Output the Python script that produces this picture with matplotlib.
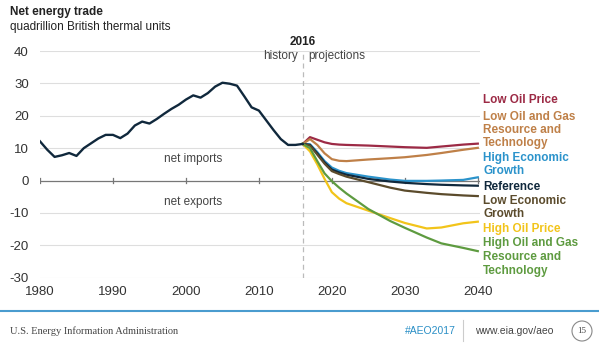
import matplotlib.pyplot as plt
from matplotlib.patches import Circle
import numpy as np

plt.rcParams['font.family'] = ['Liberation Sans', 'DejaVu Sans']
plt.rcParams['axes.unicode_minus'] = False

# history
hist_years = list(range(1980, 2017))
hist_vals = [12.1, 9.5, 7.3, 7.8, 8.5, 7.6, 10.0, 11.5, 13.0, 14.1, 14.1, 13.1, 14.5, 17.0, 18.2, 17.6, 19.0,
             20.6, 22.1, 23.4, 25.0, 26.3, 25.6, 27.0, 29.0, 30.2, 29.9, 29.3, 26.0, 22.6, 21.6, 18.6,
             15.6, 12.8, 11.0, 11.0, 11.3]

# projections
proj_years = [2016, 2017, 2018, 2019, 2020, 2021, 2022, 2025, 2028, 2030, 2033, 2035, 2038, 2040]
low_oil_price = [11.3, 13.4, 12.6, 11.8, 11.3, 11.1, 11.0, 10.8, 10.5, 10.3, 10.1, 10.5, 11.1, 11.4]
low_oil_gas = [11.3, 12.8, 11.0, 8.4, 6.6, 6.1, 6.0, 6.5, 6.9, 7.2, 7.9, 8.5, 9.5, 10.1]
high_econ = [11.3, 11.2, 8.8, 6.0, 4.0, 3.0, 2.3, 1.2, 0.3, -0.1, -0.1, 0.0, 0.2, 1.0]
reference = [11.3, 11.0, 8.4, 5.6, 3.4, 2.5, 1.8, 0.5, -0.3, -0.7, -1.1, -1.3, -1.5, -1.6]
low_econ = [11.3, 10.8, 8.0, 5.2, 2.9, 2.0, 1.2, -0.5, -2.2, -3.1, -3.8, -4.2, -4.6, -4.8]
high_oil_price = [11.3, 9.0, 5.0, 0.5, -3.6, -5.6, -7.0, -9.3, -11.6, -13.1, -14.8, -14.5, -13.2, -12.7]
high_oil_gas = [11.3, 10.0, 6.0, 2.2, -0.2, -2.2, -4.0, -8.8, -12.5, -14.6, -17.6, -19.4, -20.8, -21.8]

series = [
    (low_oil_price, '#9c2a45'),
    (low_oil_gas, '#bf8048'),
    (high_econ, '#2b93cb'),
    (reference, '#10283c'),
    (low_econ, '#5b4b2c'),
    (high_oil_price, '#f2c41a'),
    (high_oil_gas, '#5e9b40'),
]

labels = [
    ('Low Oil Price', '#9c2a45', 100),
    ('Low Oil and Gas', '#bf8048', 117),
    ('Resource and', '#bf8048', 130),
    ('Technology', '#bf8048', 143),
    ('High Economic', '#2b93cb', 158),
    ('Growth', '#2b93cb', 171),
    ('Reference', '#10283c', 187),
    ('Low Economic', '#5b4b2c', 201),
    ('Growth', '#5b4b2c', 214),
    ('High Oil Price', '#f2c41a', 229),
    ('High Oil and Gas', '#5e9b40', 243),
    ('Resource and', '#5e9b40', 257),
    ('Technology', '#5e9b40', 271),
]

W, H = 599, 343
fig = plt.figure(figsize=(W / 100, H / 100), dpi=100)
ax = fig.add_axes([40 / W, (H - 277.7) / H, 440 / W, (277.7 - 51) / H])
ax.set_xlim(1980, 2040.3)
ax.set_ylim(-30, 40)

for s in ax.spines.values():
    s.set_visible(False)
for y in range(-30, 41, 10):
    if y != 0:
        ax.axhline(y, color='#dedede', lw=0.8, zorder=0)
ax.axhline(0, color='#777777', lw=0.9, zorder=1)
for x in range(1980, 2041, 10):
    ax.plot([x, x], [-0.9, 0.9], color='#777777', lw=0.9, zorder=1)
ax.axvline(2016, color='#bbbbbb', lw=0.9, ls=(0, (4, 3)), zorder=1)

ax.set_yticks(range(-30, 41, 10))
ax.set_xticks(range(1980, 2041, 10))
ax.tick_params(length=0, labelsize=9.5, colors='#333333', pad=8)
ax.tick_params(axis='x', pad=6)

for vals, c in series:
    ax.plot(proj_years, vals, color=c, lw=1.6, zorder=3)
ax.plot(hist_years, hist_vals, color='#10283c', lw=1.7, zorder=4)

ax.text(2016, 42.9, '2016', ha='center', va='center', fontsize=8.5, fontweight='bold', color='#222222')
ax.text(2015.3, 38.4, 'history', ha='right', va='center', fontsize=8.5, color='#444444')
ax.text(2016.7, 38.4, 'projections', ha='left', va='center', fontsize=8.5, color='#444444')
ax.text(2001, 6.5, 'net imports', ha='center', va='center', fontsize=8.5, color='#444444')
ax.text(2001, -6.7, 'net exports', ha='center', va='center', fontsize=8.5, color='#444444')

for txt, c, yp in labels:
    fig.text(483 / W, 1 - yp / H, txt, ha='left', va='center', fontsize=8.5, fontweight='bold', color=c)

fig.text(10 / W, 1 - 12 / H, 'Net energy trade', ha='left', va='center', fontsize=8.5, fontweight='bold',
         color='#222222')
fig.text(10 / W, 1 - 27 / H, 'quadrillion British thermal units', ha='left', va='center', fontsize=8.5,
         color='#222222')

# footer
fig.add_artist(plt.Line2D([0, 1], [1 - 311 / H, 1 - 311 / H], color='#4a9ccf', lw=1.5))
fig.text(10 / W, 1 - 331 / H, 'U.S. Energy Information Administration', ha='left', va='center', fontsize=7.5,
         family=['Liberation Serif'], color='#444444')
fig.text(405 / W, 1 - 331 / H, '#AEO2017', ha='left', va='center', fontsize=7.5, color='#2a8fc6')
fig.add_artist(plt.Line2D([463 / W, 463 / W], [1 - 320 / H, 1 - 341 / H], color='#cccccc', lw=0.8))
fig.text(475 / W, 1 - 331 / H, 'www.eia.gov/aeo', ha='left', va='center', fontsize=7.5, color='#444444')
circ = Circle((582, H - 331), 10, transform=None, fill=False, ec='#888888', lw=0.8)
fig.add_artist(circ)
fig.text(582 / W, 1 - 331 / H, '15', ha='center', va='center', fontsize=6.5, family=['Liberation Serif'],
         color='#444444')

fig.savefig('out.png', dpi=100)
